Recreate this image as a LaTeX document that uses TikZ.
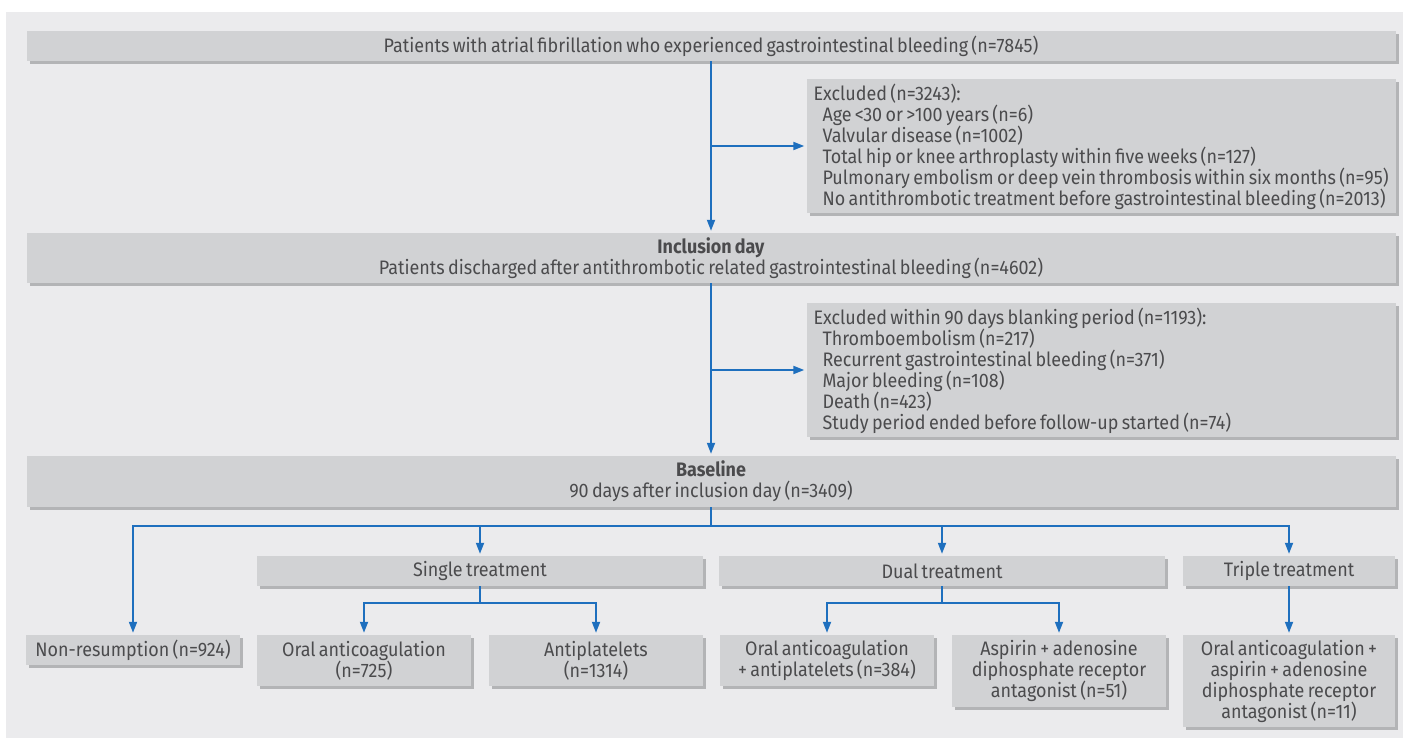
\documentclass[tikz,border=0pt]{standalone}
\usepackage{fontspec}
\setmainfont{Fira Sans}[FakeStretch=0.92, WordSpace=0.7]
\usetikzlibrary{arrows.meta,shadows,calc}
\definecolor{bggray}{HTML}{EBEBED}
\definecolor{boxgray}{HTML}{D1D2D4}
\definecolor{shadowgray}{HTML}{B3B4B6}
\definecolor{txtgray}{HTML}{4B4B4D}
\definecolor{bmjblue}{HTML}{1E6FBE}
\begin{document}
\begin{tikzpicture}[x=1pt,y=-1pt,
  txt/.style={text=txtgray, inner sep=0pt, font=\fontsize{19.5}{21}\selectfont},
  box/.style={txt, fill=boxgray, draw=none, align=center,
    general shadow={fill=shadowgray, shadow xshift=3pt, shadow yshift=-3pt}},
  exbox/.style={box, minimum width=589pt, minimum height=134pt},
  extext/.style={txt, align=left, anchor=west},
  wide/.style={box, minimum width=1369pt},
  small/.style={box, minimum width=214pt},
  mid/.style={box, minimum width=446pt, minimum height=30pt},
  link/.style={draw=bmjblue, line width=1.8pt},
  conn/.style={link, -{Triangle[length=11pt,width=8pt]}, shorten >=2pt}
]
\fill[white] (0,0) rectangle (1403,738);
\fill[bggray] (6,12) rectangle (1403,738);

\node[wide, minimum height=30pt] (top) at (711,46) {Patients with atrial fibrillation who experienced gastrointestinal bleeding (n=7845)};
\node[exbox] (ex1) at (1101,146) {};
\node[extext] (ex1t) at ($(ex1.west)+(7,1)$) {Excluded (n=3243):\\
\hspace*{9pt}Age \textless30 or \textgreater100 years (n=6)\\
\hspace*{9pt}Valvular disease (n=1002)\\
\hspace*{9pt}Total hip or knee arthroplasty within five weeks (n=127)\\
\hspace*{9pt}Pulmonary embolism or deep vein thrombosis within six months (n=95)\\
\hspace*{9pt}No antithrombotic treatment before gastrointestinal bleeding (n=2013)};
\node[wide, minimum height=50pt] (inc) at (711,258) {\textbf{Inclusion day}\\Patients discharged after antithrombotic related gastrointestinal bleeding (n=4602)};
\node[exbox] (ex2) at (1101,370) {};
\node[extext] (ex2t) at ($(ex2.west)+(7,1)$) {Excluded within 90 days blanking period (n=1193):\\
\hspace*{9pt}Thromboembolism (n=217)\\
\hspace*{9pt}Recurrent gastrointestinal bleeding (n=371)\\
\hspace*{9pt}Major bleeding (n=108)\\
\hspace*{9pt}Death (n=423)\\
\hspace*{9pt}Study period ended before follow-up started (n=74)};
\node[wide, minimum height=51pt] (base) at (711,481.5) {\textbf{Baseline}\\90 days after inclusion day (n=3409)};

\node[mid] (single) at (480,571) {Single treatment};
\node[mid] (dual) at (942,571) {Dual treatment};
\node[box, minimum width=212pt, minimum height=30pt] (triple) at (1289,571) {Triple treatment};

\node[small, minimum height=30pt] (nonres) at (133,650) {Non-resumption (n=924)};
\node[small, minimum height=51pt] (oac) at (364,660.5) {Oral anticoagulation\\(n=725)};
\node[small, minimum height=51pt] (antip) at (596,660.5) {Antiplatelets\\(n=1314)};
\node[small, minimum height=51pt] (oacap) at (827,660.5) {Oral anticoagulation\\+ antiplatelets (n=384)};
\node[small, minimum height=72pt] (asp) at (1059,671) {Aspirin + adenosine\\diphosphate receptor\\antagonist (n=51)};
\node[box, minimum width=212pt, minimum height=92pt] (trip) at (1289,681) {Oral anticoagulation +\\aspirin + adenosine\\diphosphate receptor\\antagonist (n=11)};

% connectors
\draw[conn] (top.south) -- (inc.north);
\draw[conn] (top.south |- ex1.west) -- (ex1.west);
\draw[conn] (inc.south) -- (base.north);
\draw[conn] (inc.south |- ex2.west) -- (ex2.west);

\coordinate (b1) at ($(base.south)+(0,19)$);
\draw[link] (base.south) -- (b1);
\draw[conn] (b1) -| (nonres.north);
\draw[conn] (b1) -| (triple.north);
\draw[conn] (b1 -| single.north) -- (single.north);
\draw[conn] (b1 -| dual.north) -- (dual.north);

\coordinate (s1) at ($(single.south)+(0,17)$);
\draw[link] (single.south) -- (s1);
\draw[conn] (s1) -| (oac.north);
\draw[conn] (s1) -| (antip.north);

\coordinate (d1) at ($(dual.south)+(0,17)$);
\draw[link] (dual.south) -- (d1);
\draw[conn] (d1) -| (oacap.north);
\draw[conn] (d1) -| (asp.north);

\draw[conn] (triple.south) -- (trip.north);
\end{tikzpicture}
\end{document}
